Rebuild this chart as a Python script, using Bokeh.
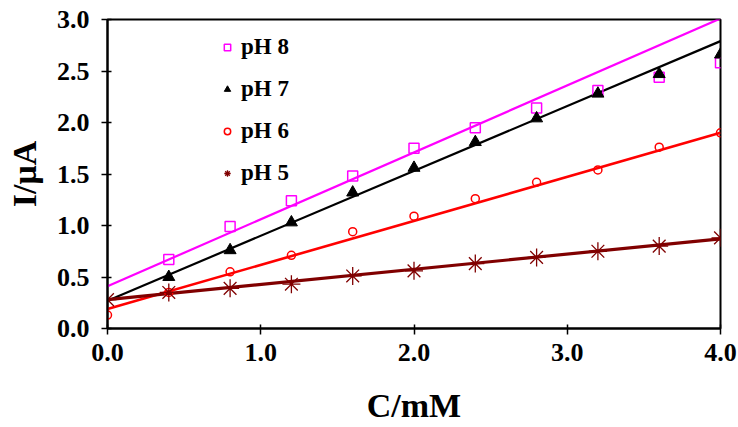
from bokeh.plotting import figure
from bokeh.models import Range1d, FixedTicker, NumeralTickFormatter, Legend, LegendItem
from bokeh.embed import file_html
from bokeh.resources import INLINE

# concentrations (mM)
conc = [0.0, 0.4, 0.8, 1.2, 1.6, 2.0, 2.4, 2.8, 3.2, 3.6, 4.0]
conc_no0 = conc[1:]

# currents (uA)
ph8 = [0.67, 0.99, 1.24, 1.48, 1.75, 1.95, 2.14, 2.31, 2.44, 2.58]          # from 0.4
ph7 = [0.50, 0.76, 1.03, 1.32, 1.56, 1.81, 2.04, 2.28, 2.47, 2.66]          # from 0.4
ph6 = [0.13, 0.35, 0.55, 0.71, 0.94, 1.09, 1.26, 1.42, 1.54, 1.76, 1.90]
ph5 = [0.28, 0.35, 0.39, 0.43, 0.51, 0.56, 0.63, 0.69, 0.75, 0.80, 0.88]

# linear trendline values at C=0 and C=4
trend_names = ["pH 8", "pH 7", "pH 6", "pH 5"]
trend_at_0 = [0.41, 0.27, 0.19, 0.28]
trend_at_4 = [3.01, 2.79, 1.90, 0.87]

x_ticks = [0, 1, 2, 3, 4]
y_ticks = [0.0, 0.5, 1.0, 1.5, 2.0, 2.5, 3.0]

FONT = "Liberation Serif"

p = figure(width=738, height=427, output_backend="svg", toolbar_location=None,
           x_range=Range1d(0, 4), y_range=Range1d(0, 3),
           min_border_left=107, min_border_right=18, min_border_top=19, min_border_bottom=99)

p.xgrid.visible = False
p.ygrid.visible = False
p.outline_line_color = "black"
p.outline_line_width = 2
p.background_fill_color = "white"
p.border_fill_color = "white"

colors = ["#FF00FF", "#000000", "#FF0000", "#800000"]
widths = [2.2, 2.2, 2.6, 3.2]
xs_line = [conc[0], conc[-1]]
for i in range(4):
    p.line(xs_line, [trend_at_0[i], trend_at_4[i]], line_color=colors[i], line_width=widths[i])

r8 = p.scatter(conc_no0, ph8, marker="square", size=10, fill_color=None,
               line_color=colors[0], line_width=1.5)
r7 = p.scatter(conc_no0, ph7, marker="triangle", size=12, fill_color=colors[1],
               line_color=colors[1], line_width=1)
r6 = p.scatter(conc, ph6, marker="circle", size=8, fill_color=None,
               line_color=colors[2], line_width=1.5)
r5 = p.scatter(conc, ph5, marker="asterisk", size=18, line_color=colors[3], line_width=1.3)

legend = Legend(items=[LegendItem(label=trend_names[0], renderers=[r8]),
                       LegendItem(label=trend_names[1], renderers=[r7]),
                       LegendItem(label=trend_names[2], renderers=[r6]),
                       LegendItem(label=trend_names[3], renderers=[r5])],
                location=(112, 142), orientation="vertical",
                border_line_color=None, background_fill_alpha=0,
                padding=0, margin=0, spacing=16, glyph_width=16, glyph_height=20,
                label_height=26, label_standoff=6,
                label_text_font=FONT, label_text_font_style="bold",
                label_text_font_size="23px", label_text_color="black")
p.add_layout(legend, "center")

for ax in (p.xaxis[0], p.yaxis[0]):
    ax.axis_line_width = 2
    ax.axis_line_color = "black"
    ax.major_tick_line_width = 1.5
    ax.major_tick_in = 4
    ax.major_tick_out = 6
    ax.minor_tick_line_color = None
    ax.major_label_text_font = FONT
    ax.major_label_text_font_style = "bold"
    ax.major_label_text_font_size = "26px"
    ax.major_label_text_color = "black"
    ax.axis_label_text_font = FONT
    ax.axis_label_text_font_style = "bold"
    ax.axis_label_text_font_size = "34px"
    ax.axis_label_text_color = "black"
    ax.formatter = NumeralTickFormatter(format="0.0")

p.xaxis[0].ticker = FixedTicker(ticks=x_ticks)
p.yaxis[0].ticker = FixedTicker(ticks=y_ticks)
p.xaxis[0].axis_label = "C/mM"
p.yaxis[0].axis_label = "I/μA"
p.xaxis[0].major_label_standoff = 9
p.yaxis[0].major_label_standoff = 12
p.xaxis[0].axis_label_standoff = 23
p.yaxis[0].axis_label_standoff = 11

open("out.html", "w").write(file_html(p, INLINE))
